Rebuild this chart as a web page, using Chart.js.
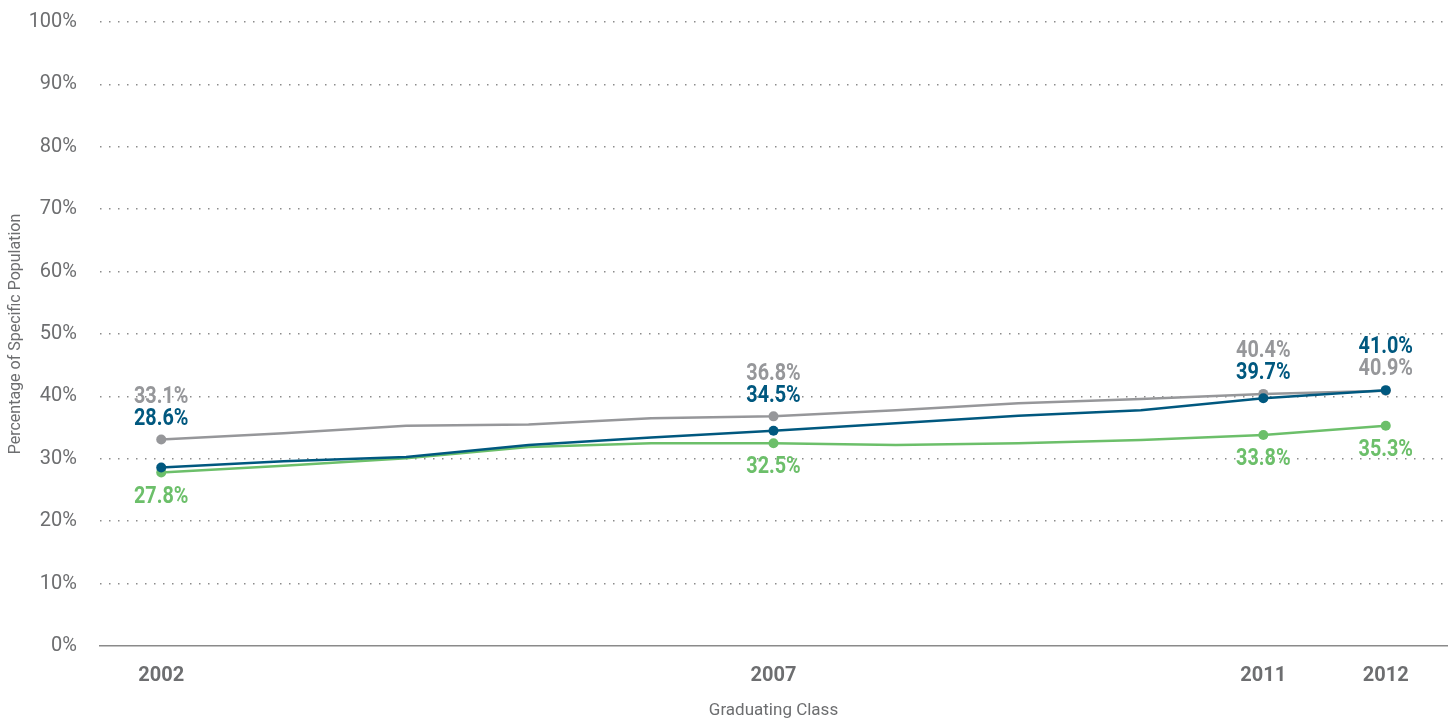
<!DOCTYPE html>
<html>
<head>
<meta charset="utf-8">
<script src="https://cdn.jsdelivr.net/npm/chart.js@4/dist/chart.umd.min.js"></script>
<style>
  html, body { margin: 0; padding: 0; background: #ffffff; }
  #wrap { position: relative; width: 1453px; height: 721px; }
</style>
</head>
<body>
<div id="wrap"><canvas id="c"></canvas></div>
<script>
// ---- data ----
const years = [2002, 2003, 2004, 2005, 2006, 2007, 2008, 2009, 2010, 2011, 2012];
const grayValues  = [33.1, 34.1, 35.3, 35.5, 36.5, 36.8, 37.8, 38.9, 39.6, 40.4, 40.9];
const blueValues  = [28.6, 29.6, 30.3, 32.2, 33.4, 34.5, 35.7, 36.9, 37.8, 39.7, 41.0];
const greenValues = [27.8, 28.9, 30.1, 31.9, 32.5, 32.5, 32.2, 32.5, 33.0, 33.8, 35.3];
const labeledYears = [2002, 2007, 2011, 2012];
const yTicks = [0, 10, 20, 30, 40, 50, 60, 70, 80, 90, 100];
const xTitle = 'Graduating Class';
const yTitle = 'Percentage of Specific Population';

const GRAY = '#96979a', BLUE = '#00587f', GREEN = '#6cbf6a', TEXT = '#6d6e70';
const FONT = "Roboto, 'Liberation Sans', sans-serif";

function pts(vals) { return years.map((y, i) => ({ x: y, y: vals[i] })); }
function radius(ctx) {
  const p = ctx.raw; return p && labeledYears.includes(p.x) ? 5 : 0;
}

const labelPlugin = {
  id: 'valueLabels',
  afterDatasetsDraw(chart) {
    const ctx = chart.ctx;
    const xs = chart.scales.x, ys = chart.scales.y;
    const fmt = v => v.toFixed(1) + '%';
    ctx.save();
    ctx.textAlign = 'center';
    ctx.textBaseline = 'middle';
    ctx.font = "bold 22px " + FONT;
    labeledYears.forEach(yr => {
      const i = years.indexOf(yr);
      const px = xs.getPixelForValue(yr);
      const g = grayValues[i], b = blueValues[i], gr = greenValues[i];
      const topY = Math.min(ys.getPixelForValue(g), ys.getPixelForValue(b));
      const upper = g >= b ? [g, GRAY] : [b, BLUE];
      const lower = g >= b ? [b, BLUE] : [g, GRAY];
      const draw = (txt, color, y) => {
        ctx.save();
        ctx.translate(px, y);
        ctx.scale(0.9, 1.12);
        ctx.fillStyle = color;
        ctx.fillText(txt, 0, 0);
        ctx.restore();
      };
      draw(fmt(lower[0]), lower[1], topY - 21);
      draw(fmt(upper[0]), upper[1], topY - 43);
      draw(fmt(gr), GREEN, ys.getPixelForValue(gr) + 24);
    });
    ctx.restore();
  }
};

function ds(label, vals, color) {
  return {
    label, data: pts(vals), borderColor: color, backgroundColor: color,
    borderWidth: 2.5, pointRadius: radius, pointHoverRadius: radius,
    pointBorderWidth: 0, tension: 0
  };
}

new Chart(document.getElementById('c'), {
  type: 'line',
  data: { datasets: [
    ds('Blue', blueValues, BLUE),
    ds('Gray', grayValues, GRAY),
    ds('Green', greenValues, GREEN)
  ]},
  options: {
    responsive: true,
    maintainAspectRatio: false,
    animation: false,
    events: [],
    layout: { padding: { top: 22, right: 6, left: 0, bottom: 0 } },
    plugins: { legend: { display: false }, tooltip: { enabled: false } },
    scales: {
      x: {
        type: 'linear', min: 2001.5, max: 2012.5,
        afterBuildTicks(s) { s.ticks = labeledYears.map(v => ({ value: v })); },
        afterFit(s) { s.height = 75; s.paddingLeft = 0; s.paddingRight = 0; },
        grid: { display: false, drawTicks: false },
        border: { display: true, color: '#8a8a8a', width: 1.5 },
        ticks: {
          padding: 18, color: TEXT, autoSkip: false, maxRotation: 0,
          font: { family: FONT, size: 20, weight: 'bold' },
          callback: v => String(v)
        },
        title: { display: true, text: xTitle, color: TEXT,
                 font: { family: FONT, size: 17 }, padding: { top: 0, bottom: 0 } }
      },
      y: {
        min: 0, max: 100,
        afterBuildTicks(s) { s.ticks = yTicks.map(v => ({ value: v })); },
        afterFit(s) { s.width = 100; s.paddingTop = 0; s.paddingBottom = 0; },
        grid: {
          drawTicks: false, lineWidth: 1.5,
          color: c => (c.tick && c.tick.value === 0) ? 'rgba(0,0,0,0)' : '#8c8c8c'
        },
        border: { display: false, dash: [1.5, 7.5] },
        ticks: {
          padding: 23, color: TEXT,
          font: { family: FONT, size: 20 },
          callback: v => v + '%'
        },
        title: { display: true, text: yTitle, color: TEXT,
                 font: { family: FONT, size: 16 }, padding: { top: 6, bottom: 0 } }
      }
    }
  },
  plugins: [labelPlugin]
});
</script>
</body>
</html>
